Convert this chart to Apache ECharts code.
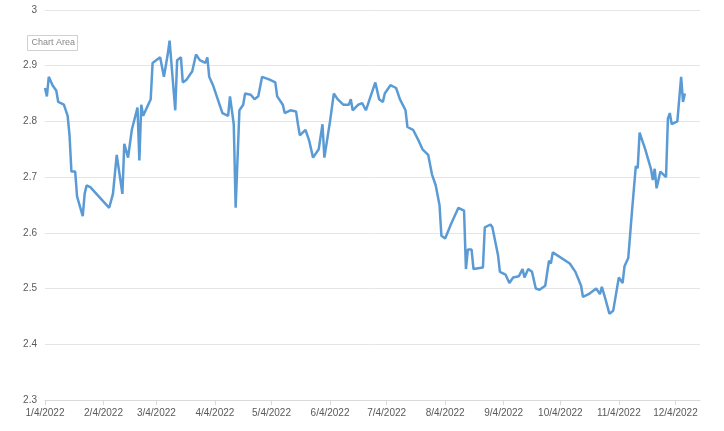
<!DOCTYPE html>
<html>
<head>
<meta charset="utf-8">
<script src="https://cdn.jsdelivr.net/npm/echarts@6/dist/echarts.min.js"></script>
<style>html,body{margin:0;padding:0;background:#fff}#chart{width:724px;height:431px}</style>
</head>
<body>
<div id="chart"></div>
<script>
// base date of the series, day offsets and values
const startDate = '2022-01-04';
const dayOffsets = [0,1,2,4,6,7,10,12,13,14,16,17,20,21,22,24,34,36,38,41,42,44,46,49,50,51,52,56,57,61,63,65,66,69,70,72,73,75,78,80,82,85,86,87,89,91,94,97,98,100,101,103,105,106,109,111,113,115,119,122,123,126,127,130,133,134,135,138,140,142,145,147,148,151,153,155,158,161,162,163,166,168,170,172,175,177,179,180,183,186,188,191,192,195,198,200,203,205,207,209,210,212,215,216,219,222,223,224,226,227,232,233,236,237,240,241,244,246,248,251,253,254,256,258,260,262,265,267,268,269,278,281,284,285,288,292,294,295,297,299,301,304,306,307,309,311,313,314,315,318,321,322,323,324,326,329,330,331,332,335,337,338,339];
const values = [2.86,2.845,2.88,2.865,2.855,2.835,2.83,2.81,2.775,2.71,2.71,2.665,2.63,2.67,2.685,2.682,2.645,2.67,2.74,2.67,2.76,2.735,2.785,2.825,2.73,2.83,2.81,2.84,2.905,2.915,2.88,2.92,2.945,2.82,2.91,2.915,2.87,2.875,2.89,2.92,2.91,2.905,2.915,2.88,2.865,2.845,2.815,2.81,2.845,2.795,2.645,2.82,2.83,2.85,2.848,2.84,2.845,2.88,2.875,2.87,2.845,2.83,2.815,2.82,2.818,2.795,2.775,2.785,2.765,2.735,2.75,2.795,2.735,2.8,2.85,2.84,2.83,2.83,2.84,2.82,2.83,2.833,2.82,2.84,2.87,2.84,2.835,2.85,2.865,2.86,2.84,2.82,2.79,2.785,2.765,2.75,2.74,2.705,2.685,2.65,2.595,2.59,2.615,2.615,2.645,2.64,2.535,2.57,2.57,2.535,2.538,2.61,2.615,2.61,2.56,2.53,2.525,2.51,2.52,2.522,2.535,2.52,2.535,2.53,2.5,2.498,2.505,2.55,2.545,2.565,2.545,2.53,2.505,2.485,2.49,2.5,2.49,2.503,2.48,2.455,2.46,2.52,2.51,2.54,2.555,2.64,2.72,2.716,2.78,2.75,2.715,2.695,2.715,2.68,2.71,2.7,2.805,2.815,2.795,2.8,2.88,2.835,2.85];
const tickMonths = ['2022-01-04','2022-02-04','2022-03-04','2022-04-04','2022-05-04','2022-06-04','2022-07-04','2022-08-04','2022-09-04','2022-10-04','2022-11-04','2022-12-04'];

const DAY = 86400000;
const t0 = Date.parse(startDate + 'T00:00:00Z');
const points = dayOffsets.map((d, i) => [t0 + d * DAY, values[i]]);
const ticks = tickMonths.map(s => Date.parse(s + 'T00:00:00Z'));
const lastTick = ticks[ticks.length - 1];

const chart = echarts.init(document.getElementById('chart'));
chart.setOption({
  animation: false,
  grid: { left: 45, right: 24, top: 10, bottom: 31 },
  xAxis: {
    type: 'value',
    min: t0,
    max: lastTick + 13 * DAY,
    axisLine: { lineStyle: { color: '#d9d9d9' } },
    axisTick: { show: true, customValues: ticks, lineStyle: { color: '#d9d9d9' } },
    splitLine: { show: false },
    axisLabel: {
      customValues: ticks,
      color: '#595959', fontSize: 10, fontFamily: 'Liberation Sans',
      formatter: v => { const d = new Date(v); return (d.getUTCMonth() + 1) + '/' + d.getUTCDate() + '/' + d.getUTCFullYear(); }
    }
  },
  yAxis: {
    type: 'value', min: 2.3, max: 3, interval: 0.1,
    axisLine: { show: false }, axisTick: { show: false },
    splitLine: { lineStyle: { color: '#e5e5e5' } },
    axisLabel: { color: '#595959', fontSize: 10, fontFamily: 'Liberation Sans', formatter: v => +v.toFixed(1) + '' }
  },
  graphic: [{
    type: 'group', left: 27, top: 35,
    children: [
      { type: 'rect', shape: { x: 0, y: 0, width: 50, height: 15 }, style: { fill: '#fff', stroke: '#d0d0d0' } },
      { type: 'text', style: { x: 4, y: 3, text: 'Chart Area', fontSize: 9, fill: '#888', fontFamily: 'Liberation Sans' } }
    ]
  }],
  series: [{
    type: 'line', data: points, showSymbol: false,
    lineStyle: { color: '#5b9bd5', width: 2.5 }, itemStyle: { color: '#5b9bd5' }
  }]
});
</script>
</body>
</html>
